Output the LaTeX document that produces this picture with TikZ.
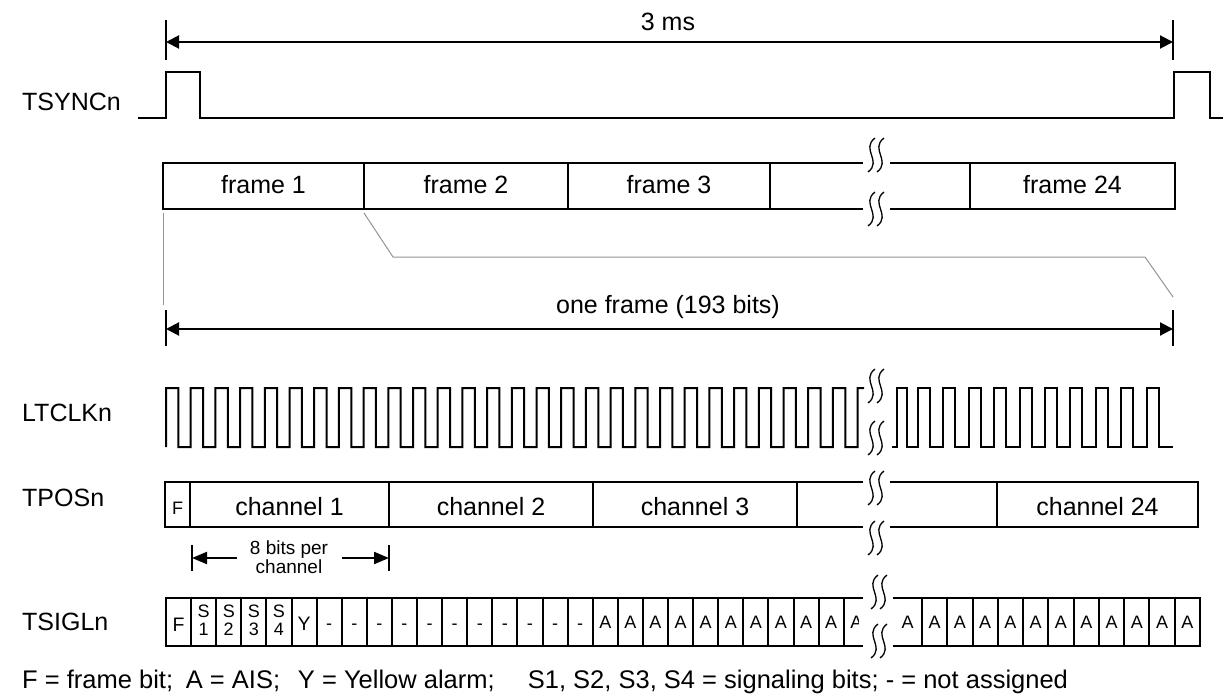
\documentclass[tikz,border=0pt]{standalone}
\usepackage{fontspec}
\setmainfont{Liberation Sans}
\usetikzlibrary{arrows.meta}
\begin{document}
\begin{tikzpicture}[x=1pt,y=-1pt,
  sig/.style={line width=2pt, line join=miter},
  grayline/.style={line width=1pt, draw=black!42},
  lab/.style={font=\fontsize{25}{28}\selectfont, inner sep=0pt},
  cell/.style={font=\fontsize{18}{18}\selectfont, inner sep=0pt},
  cellb/.style={font=\fontsize{19.5}{20}\selectfont, inner sep=0pt},
  dimline/.style={line width=2pt, {Triangle[length=13pt,width=13pt]}-{Triangle[length=13pt,width=13pt]}},
  dimhalf/.style={line width=2pt, -{Triangle[length=15pt,width=12pt]}},
  brk/.pic={\foreach \dx in {-4.5,4.5} \draw[line width=1.3pt] (\dx+3.5,-17) .. controls (\dx-11,-6) and (\dx+11,6) .. (\dx-3.5,17);}
  ]
\useasboundingbox (0,0) rectangle (1223,695);

% ---------- labels ----------
\node[lab, anchor=base west] (tsync) at (22,111) {TSYNCn};
\node[lab, anchor=base west] (ltclk) at (22,421) {LTCLKn};
\node[lab, anchor=base west] (tpos) at (22,506) {TPOSn};
\node[lab, anchor=base west] (tsigl) at (22,630) {TSIGLn};

% ---------- 3 ms ----------
\coordinate (ta1) at (166,20); \coordinate (ta2) at (166,60);
\coordinate (tb1) at (1173,20); \coordinate (tb2) at (1173,60);
\draw[sig] (ta1) -- (ta2); \draw[sig] (tb1) -- (tb2);
\coordinate (ma) at (166,42); \coordinate (mb) at (1173,42);
\draw[dimline] (ma) -- (mb);
\node[lab, anchor=base] (ms) at (668,31) {3 ms};

% ---------- TSYNCn ----------
\draw[sig] (138,118) -- (166,118) -- (166,72) -- (200,72) -- (200,118) -- (1174,118) -- (1174,72) -- (1210,72) -- (1210,118) -- (1223,118);

% ---------- frames ----------
\draw[sig] (863,163) -- (163,163) -- (163,209) -- (863,209);
\foreach \x in {364,568,770} \draw[sig] (\x,163) -- (\x,209);
\draw[sig] (890,163) -- (1175,163) -- (1175,209) -- (890,209);
\draw[sig] (970,163) -- (970,209);
\pic at (876,155) {brk};
\pic at (876,209) {brk};
\node[lab, anchor=base] (f1) at (263.5,194) {frame 1};
\node[lab, anchor=base] (f2) at (466,194) {frame 2};
\node[lab, anchor=base] (f3) at (669,194) {frame 3};
\node[lab, anchor=base] (f24) at (1072.5,194) {frame 24};

% ---------- grey expansion lines ----------
\draw[grayline] (163,213) -- (163,305);
\draw[grayline] (364,213) -- (393,257) -- (1145,257) -- (1173,297);

% ---------- one frame ----------
\coordinate (oa1) at (166,310); \coordinate (oa2) at (166,346);
\coordinate (ob1) at (1173,310); \coordinate (ob2) at (1173,346);
\draw[sig] (oa1) -- (oa2); \draw[sig] (ob1) -- (ob2);
\coordinate (oa) at (166,329); \coordinate (ob) at (1173,329);
\draw[dimline] (oa) -- (ob);
\node[lab, anchor=base] (oneframe) at (668,313) {one frame (193 bits)};

% ---------- LTCLKn ----------
\draw[sig] (166,447) \foreach \i in {0,...,27} {
   -- ({166+24.7*\i},388) -- ({178.35+24.7*\i},388) -- ({178.35+24.7*\i},447) -- ({190.7+24.7*\i},447) }
   -- (857.6,388) -- (864,388);
\draw[sig] (892,447) -- (897,447) -- (897,388) -- (907,388) -- (907,447)
   \foreach \k in {0,...,9} {
   -- ({918+25.4*\k},447) -- ({918+25.4*\k},388) -- ({930+25.4*\k},388) -- ({930+25.4*\k},447) }
   -- (1173,447);
\pic at (876,386) {brk};
\pic at (876,438) {brk};

% ---------- TPOSn ----------
\draw[sig] (863,482) -- (165,482) -- (165,527) -- (863,527);
\foreach \x in {190,389,593,797} \draw[sig] (\x,482) -- (\x,527);
\draw[sig] (890,482) -- (1198,482) -- (1198,527) -- (890,527);
\draw[sig] (997,482) -- (997,527);
\pic at (876,488) {brk};
\pic at (876,538) {brk};
\node[cell, anchor=base] (tpF) at (177.5,514) {F};
\node[lab, anchor=base] (c1) at (289.5,515) {channel 1};
\node[lab, anchor=base] (c2) at (491,515) {channel 2};
\node[lab, anchor=base] (c3) at (695,515) {channel 3};
\node[lab, anchor=base] (c24) at (1097.5,515) {channel 24};

% ---------- 8 bits per channel ----------
\coordinate (ba1) at (192,545); \coordinate (ba2) at (192,571);
\coordinate (bb1) at (389,545); \coordinate (bb2) at (389,571);
\draw[sig] (ba1) -- (ba2); \draw[sig] (bb1) -- (bb2);
\node[font=\fontsize{19}{16}\selectfont, inner sep=0pt, align=center] (bits) at (289,557) {8 bits per\\channel};
\coordinate (bl) at (192,558); \coordinate (br) at (389,558);
\draw[dimhalf] (237,558) -- (bl);
\draw[dimhalf] (342,558) -- (br);

% ---------- TSIGLn ----------
\draw[sig] (863,598) -- (166,598) -- (166,646) -- (863,646);
\foreach \k in {1,...,27} \draw[sig] ({166+25.1*\k},598) -- ({166+25.1*\k},646);
\draw[sig] (893,598) -- (1200,598) -- (1200,646) -- (893,646);
\foreach \k in {0,...,10} \draw[sig] ({922+25.27*\k},598) -- ({922+25.27*\k},646);
\pic at (879,592) {brk};
\pic at (879,641) {brk};
\node[cellb, anchor=base] (sF) at (178.5,631) {F};
\foreach \k/\n in {1/1,2/2,3/3,4/4} {
  \node[cell, anchor=base] (sS\n) at ({166+25.1*\k+12.55},617) {S};
  \node[cell, anchor=base] (sN\n) at ({166+25.1*\k+12.55},635) {\n};
}
\node[cellb, anchor=base] (sY) at ({166+25.1*5+12.55},630) {Y};
\foreach \k in {6,...,16} \node[cell, anchor=base] (sd\k) at ({166+25.1*\k+12.55},629) {-};
\foreach \k in {17,...,26} \node[cell, anchor=base] (sa\k) at ({166+25.1*\k+12.55},628) {A};
\begin{scope}
  \clip (844,598) rectangle (858,646);
  \node[cell, anchor=base] (sa27) at ({166+25.1*27+12.55},628) {A};
\end{scope}
\node[cell, anchor=base] (sb0) at (907.5,628) {A};
\foreach \k in {0,...,10} \node[cell, anchor=base] (sb\k x) at ({922+25.27*\k+12.63},628) {A};

% ---------- legend ----------
\node[font=\fontsize{25.5}{28}\selectfont, inner sep=0pt, anchor=base west] (legend) at (22,688) {F = frame bit;\hspace{0.5em}A = AIS;\hspace{0.7em}Y = Yellow alarm;\hspace{1.3em}S1, S2, S3, S4 = signaling bits; - = not assigned};
\end{tikzpicture}
\end{document}
